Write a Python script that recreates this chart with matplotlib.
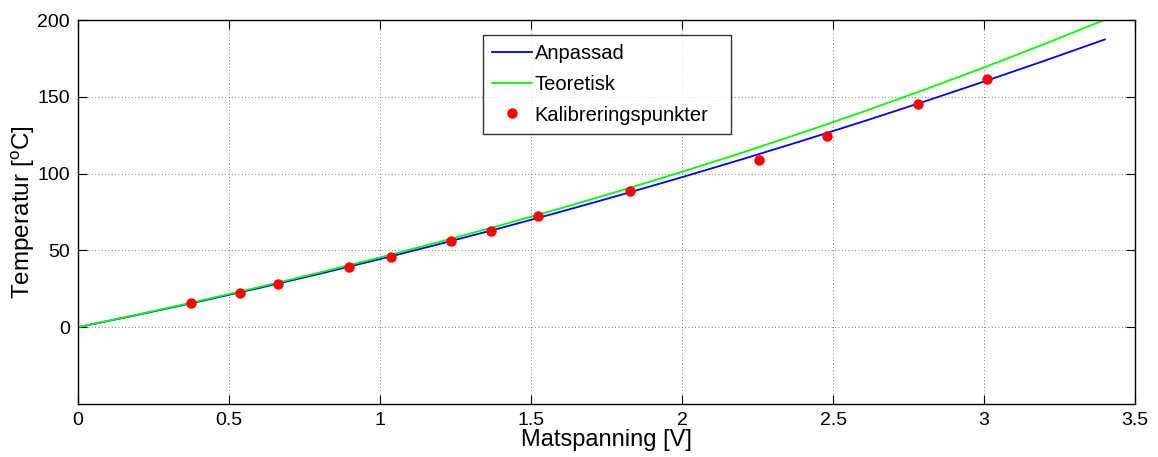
import matplotlib
matplotlib.use('Agg')
import matplotlib.pyplot as plt

plt.rcParams['font.family'] = ['Liberation Sans', 'DejaVu Sans']
plt.rcParams['mathtext.default'] = 'regular'

# ── data ──────────────────────────────────────────────────────────────────
curve_x = [0, 0.2, 0.4, 0.6, 0.8, 1.0, 1.2, 1.4, 1.6, 1.8,
           2.0, 2.2, 2.4, 2.6, 2.8, 3.0, 3.2, 3.4]
anpassad = [0, 8.16, 16.68, 25.55, 34.79, 44.38, 54.33, 64.63, 75.30, 86.33,
            97.71, 109.45, 121.55, 134.0, 146.82, 159.99, 173.52, 187.41]
teoretisk = [0, 8.37, 17.08, 26.16, 35.61, 45.46, 55.72, 66.41, 77.54, 89.13,
             101.19, 113.75, 126.81, 140.39, 154.51, 169.19, 184.43, 200.27]

kal_x = [0.374, 0.536, 0.662, 0.897, 1.036, 1.235, 1.368, 1.523, 1.826,
         2.255, 2.48, 2.782, 3.009]
kal_y = [15.6, 22.1, 28.0, 39.0, 45.6, 56.0, 62.5, 72.3, 88.8,
         109.2, 124.4, 145.1, 161.4]

xticks = [0, 0.5, 1, 1.5, 2, 2.5, 3, 3.5]
xticklabels = ['0', '0.5', '1', '1.5', '2', '2.5', '3', '3.5']
yticks = [0, 50, 100, 150, 200]

# ── plot ──────────────────────────────────────────────────────────────────
fig = plt.figure(figsize=(11.58, 4.57), dpi=100)
ax = fig.add_axes([0.0674, 0.116, 0.9128, 0.840])

ax.plot(curve_x, anpassad, color='#0000ff', lw=1.3, label='Anpassad')
ax.plot(curve_x, teoretisk, color='#00ff00', lw=1.3, label='Teoretisk')
ax.plot(kal_x, kal_y, 'o', color='red', ms=6.5, mec='red', label='Kalibreringspunkter')

ax.set_xlim(0, 3.5)
ax.set_ylim(-50, 200)
ax.set_xticks(xticks)
ax.set_xticklabels(xticklabels)
ax.set_yticks(yticks)
ax.tick_params(direction='in', top=True, right=True, labelsize=14, length=6.5, width=0.8, pad=6)
ax.grid(True, linestyle=(0, (1, 3)), color='#555555', linewidth=0.6)
for s in ax.spines.values():
    s.set_linewidth(1.0)

ax.set_xlabel('Matspanning [V]', fontsize=17, labelpad=0)
ax.set_ylabel('Temperatur [$^{o}$C]', fontsize=17.5, labelpad=0)

leg = ax.legend(loc='upper left', bbox_to_anchor=(0.383, 0.0, 0.2346, 0.961),
                mode='expand', fontsize=14.5,
                frameon=True, fancybox=False, edgecolor='black',
                handlelength=2.0, handletextpad=0.12, borderpad=0.45,
                labelspacing=0.58, borderaxespad=0)
leg.get_frame().set_linewidth(1.0)

plt.savefig('out.png', dpi=100)
plt.close()
